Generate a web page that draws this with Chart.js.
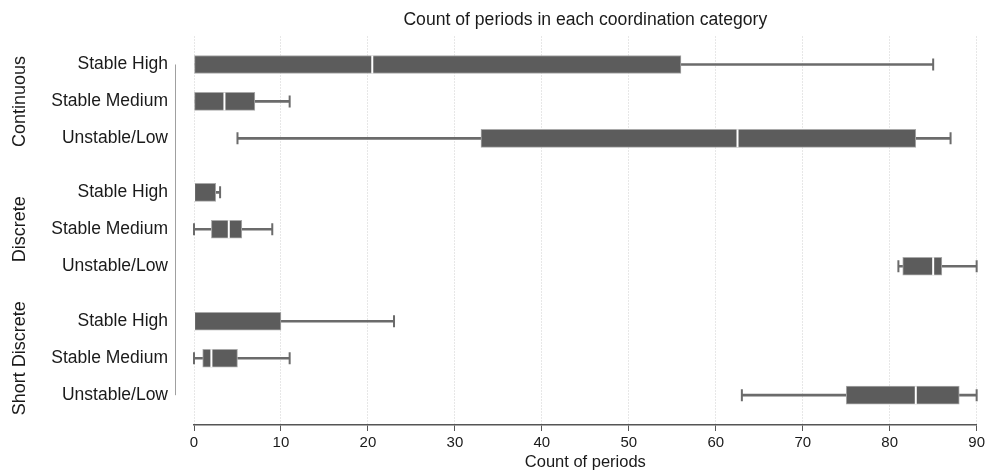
<!DOCTYPE html>
<html>
<head>
<meta charset="utf-8">
<script src="https://cdn.jsdelivr.net/npm/chart.js@4/dist/chart.umd.min.js"></script>
<style>
  body { margin: 0; background: #fff; }
  #wrap { width: 988px; height: 472px; }
</style>
</head>
<body>
<div id="wrap"><canvas id="canvas"></canvas></div>
<script>
// rows of the box plot, top to bottom
var groups = ['Continuous', 'Discrete', 'Short Discrete'];
var rowLabels = ['Stable High', 'Stable Medium', 'Unstable/Low',
                 'Stable High', 'Stable Medium', 'Unstable/Low',
                 'Stable High', 'Stable Medium', 'Unstable/Low'];
var rowPos = [0, 1, 2, 3.46, 4.46, 5.46, 6.95, 7.95, 8.95];

// box plot statistics (count of periods)
var mins    = [0,    0,   5,    0,   0,   81,   0,  0,  63];
var q1s     = [0,    0,   33,   0,   2,   81.5, 0,  1,  75];
var medians = [20.5, 3.5, 62.5, 0,   4,   85,   0,  2,  83];
var q3s     = [56,   7,   83,   2.5, 5.5, 86,   10, 5,  88];
var maxs    = [85,   11,  87,   3,   9,   90,   23, 11, 90];

var xTicks = [0, 10, 20, 30, 40, 50, 60, 70, 80, 90];

var font = 'Liberation Sans, Arial, Helvetica, sans-serif';
var textColor = '#1a1a1a';
var boxColor = '#5c5c5c';
var whiskerColor = '#6b6b6b';

function rows(fn) {
    var out = [];
    rowPos.forEach(function (p, i) {
        var d = fn(i, p);
        if (d) out.push(d);
    });
    return out;
}

var extras = {
    id: 'extras',
    afterDraw: function (chart) {
        var ctx = chart.ctx;
        var area = chart.chartArea;
        var y = chart.scales.y;

        // title centred over the plot area
        ctx.save();
        ctx.fillStyle = textColor;
        ctx.font = '17.6px ' + font;
        ctx.textAlign = 'center';
        ctx.textBaseline = 'middle';
        ctx.fillText('Count of periods in each coordination category', (area.left + area.right) / 2, 20);

        // y axis line, only across the rows
        ctx.strokeStyle = '#a0a0a0';
        ctx.lineWidth = 1;
        ctx.beginPath();
        ctx.moveTo(area.left - 18.5, y.getPixelForValue(rowPos[0]));
        ctx.lineTo(area.left - 18.5, y.getPixelForValue(rowPos[rowPos.length - 1]));
        ctx.stroke();

        // group labels, rotated
        ctx.font = '18px ' + font;
        groups.forEach(function (g, k) {
            var py = y.getPixelForValue(rowPos[k * 3 + 1]);
            ctx.save();
            ctx.translate(20, py);
            ctx.rotate(-Math.PI / 2);
            ctx.fillText(g, 0, 0);
            ctx.restore();
        });
        ctx.restore();
    }
};

var ctx = document.getElementById('canvas').getContext('2d');

var chart = new Chart(ctx, {
    type: 'bar',
    data: {
        datasets: [
            {
                label: 'lower whisker',
                data: rows(function (i, p) { return { y: p, x: [mins[i], q1s[i]] }; }),
                backgroundColor: whiskerColor,
                barThickness: 2,
                grouped: false,
                order: 4
            },
            {
                label: 'upper whisker',
                data: rows(function (i, p) { return { y: p, x: [q3s[i], maxs[i]] }; }),
                backgroundColor: whiskerColor,
                barThickness: 2,
                grouped: false,
                order: 4
            },
            {
                label: 'box',
                data: rows(function (i, p) { return { y: p, x: [q1s[i], q3s[i]] }; }),
                backgroundColor: boxColor,
                borderColor: '#a9a9a9',
                borderWidth: 1,
                borderSkipped: false,
                barThickness: 18,
                grouped: false,
                order: 3
            },
            {
                type: 'scatter',
                label: 'median',
                data: rows(function (i, p) { return { x: medians[i], y: p }; }),
                pointStyle: 'line',
                rotation: 90,
                radius: 9,
                borderColor: '#ffffff',
                borderWidth: 2,
                clip: 4,
                order: 1
            },
            {
                type: 'scatter',
                label: 'caps',
                data: rows(function (i, p) { return mins[i] < q1s[i] ? { x: mins[i], y: p } : null; })
                    .concat(rows(function (i, p) { return { x: maxs[i], y: p }; })),
                pointStyle: 'line',
                rotation: 90,
                radius: 6,
                borderColor: whiskerColor,
                borderWidth: 2,
                clip: 4,
                order: 2
            }
        ]
    },
    options: {
        indexAxis: 'y',
        responsive: true,
        maintainAspectRatio: false,
        animation: false,
        layout: { padding: { top: 36, right: 10, left: 0, bottom: 0 } },
        plugins: {
            legend: { display: false },
            tooltip: { enabled: false },
            title: { display: false }
        },
        scales: {
            x: {
                type: 'linear',
                min: 0,
                max: 90,
                offset: false,
                afterBuildTicks: function (s) { s.ticks = xTicks.map(function (v) { return { value: v }; }); },
                afterFit: function (s) { s.height = 47; },
                ticks: { font: { family: font, size: 15 }, color: textColor, padding: 3, maxRotation: 0 },
                grid: {
                    color: '#cfcfcf',
                    lineWidth: 1,
                    offset: false,
                    drawTicks: true,
                    tickLength: 6,
                    tickColor: '#555',
                    tickWidth: 1,
                    tickBorderDash: []
                },
                border: { display: true, color: '#555', width: 1.5, dash: [1, 2] },
                title: {
                    display: true,
                    text: 'Count of periods',
                    font: { family: font, size: 16.5 },
                    color: textColor,
                    padding: { top: 3, bottom: 0 }
                }
            },
            y: {
                type: 'linear',
                reverse: true,
                offset: false,
                min: -0.757,
                max: 9.757,
                afterBuildTicks: function (s) { s.ticks = rowPos.map(function (v) { return { value: v }; }); },
                afterFit: function (s) { s.width = 194; },
                ticks: {
                    callback: function (v, i) { return rowLabels[i]; },
                    font: { family: font, size: 17.5 },
                    color: textColor,
                    padding: 26,
                    autoSkip: false
                },
                grid: { display: false, drawTicks: false, offset: false },
                border: { display: false }
            }
        }
    },
    plugins: [extras]
});
</script>
</body>
</html>
